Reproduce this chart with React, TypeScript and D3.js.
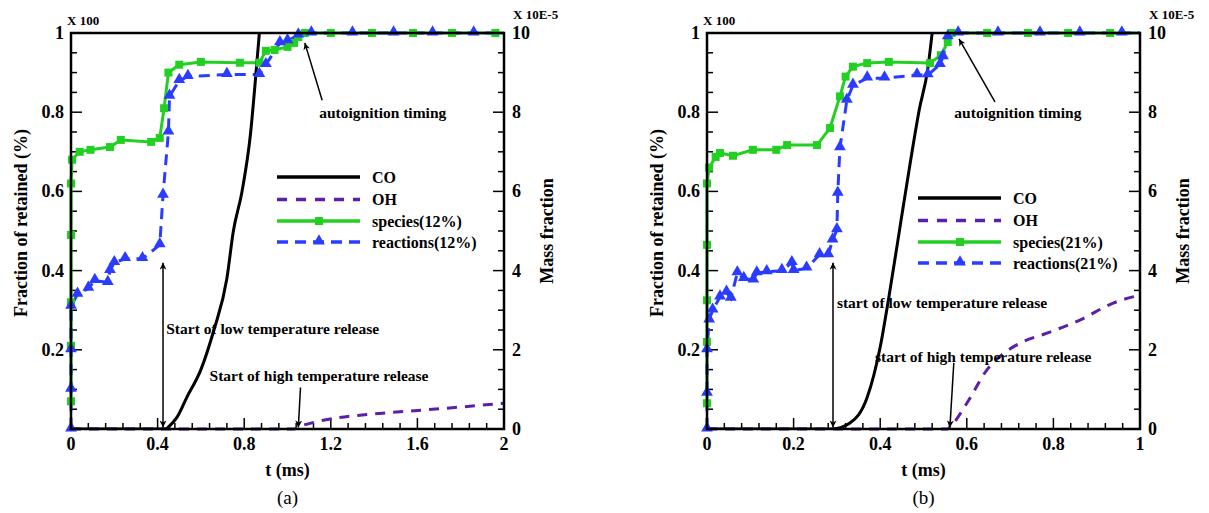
import React, { useRef, useEffect } from 'react';
import * as d3 from 'd3';

type Pt = [number, number];

// ---- panel (a): 12% ----
const speciesA: Pt[] = [
  [0, 0.07], [0, 0.21], [0, 0.32], [0, 0.49], [0, 0.62], [0.005, 0.68], [0.04, 0.7], [0.09, 0.705],
  [0.18, 0.712], [0.23, 0.73], [0.37, 0.725], [0.41, 0.735], [0.43, 0.81], [0.45, 0.9], [0.5, 0.92],
  [0.6, 0.927], [0.78, 0.925], [0.87, 0.925], [0.9, 0.955], [0.94, 0.957], [1.0, 0.965], [1.03, 0.975],
  [1.05, 0.99], [1.08, 1], [1.2, 1], [1.39, 1], [1.58, 1], [1.76, 1], [1.96, 1], [2, 1],
];
const reactionsA: Pt[] = [
  [0, 0], [0, 0.1], [0, 0.2], [0, 0.31], [0.03, 0.34], [0.08, 0.355], [0.11, 0.375], [0.17, 0.37],
  [0.18, 0.4], [0.2, 0.42], [0.25, 0.43], [0.33, 0.43], [0.41, 0.465], [0.425, 0.59], [0.45, 0.75],
  [0.455, 0.84], [0.5, 0.88], [0.54, 0.89], [0.72, 0.895], [0.87, 0.895], [0.9, 0.92], [0.965, 0.975],
  [1.0, 0.98], [1.05, 0.995], [1.11, 1], [1.3, 1], [1.49, 1], [1.67, 1], [1.86, 1], [2, 1],
];
const coA: Pt[] = [
  [0, 0], [0.44, 0], [0.45, 0.05], [0.49, 0.3], [0.535, 0.8], [0.6, 1.5], [0.66, 2.5], [0.72, 3.8],
  [0.75, 5.0], [0.79, 6.0], [0.83, 7.5], [0.85, 8.7], [0.87, 10], [0.9, 11.5],
];
const ohA: Pt[] = [
  [0, 0], [1.03, 0], [1.05, 0.05], [1.13, 0.18], [1.23, 0.28], [1.44, 0.4], [1.63, 0.48], [1.81, 0.56], [2, 0.65],
];

// ---- panel (b): 21% ----
const speciesB: Pt[] = [
  [0, 0.065], [0, 0.22], [0, 0.325], [0, 0.465], [0, 0.62], [0.005, 0.66], [0.02, 0.687], [0.03, 0.697],
  [0.06, 0.69], [0.106, 0.705], [0.16, 0.705], [0.185, 0.717], [0.254, 0.717], [0.284, 0.76], [0.307, 0.84],
  [0.32, 0.89], [0.337, 0.915], [0.37, 0.924], [0.42, 0.927], [0.515, 0.924], [0.54, 0.944], [0.556, 0.977],
  [0.565, 1], [0.647, 1], [0.741, 1], [0.834, 1], [0.931, 1], [1, 1],
];
const reactionsB: Pt[] = [
  [0, 0], [0, 0.09], [0, 0.2], [0.005, 0.275], [0.013, 0.3], [0.03, 0.333], [0.045, 0.345], [0.055, 0.33],
  [0.07, 0.394], [0.085, 0.38], [0.107, 0.376], [0.115, 0.394], [0.138, 0.397], [0.173, 0.4], [0.196, 0.42],
  [0.2, 0.4], [0.23, 0.406], [0.26, 0.44], [0.28, 0.44], [0.29, 0.477], [0.3, 0.503], [0.302, 0.595],
  [0.307, 0.71], [0.323, 0.83], [0.337, 0.868], [0.37, 0.886], [0.41, 0.886], [0.485, 0.894], [0.51, 0.894],
  [0.538, 0.92], [0.545, 0.94], [0.556, 0.99], [0.58, 1], [0.672, 1], [0.769, 1], [0.861, 1], [0.958, 1], [1, 1],
];
const coB: Pt[] = [
  [0, 0], [0.29, 0], [0.33, 0.15], [0.37, 0.8], [0.4, 2.07], [0.42, 3.33], [0.44, 4.7], [0.469, 6.7],
  [0.49, 8.05], [0.51, 9.1], [0.52, 10], [0.53, 11],
];
const ohB: Pt[] = [
  [0, 0], [0.555, 0], [0.561, 0.05], [0.6, 0.65], [0.647, 1.5], [0.684, 1.9], [0.723, 2.17], [0.785, 2.42],
  [0.861, 2.75], [0.938, 3.18], [1, 3.38],
];

const leftTicks = [0.2, 0.4, 0.6, 0.8, 1];
const rightTicks = [0, 2, 4, 6, 8, 10];
const tTicksA = [0, 0.4, 0.8, 1.2, 1.6, 2];
const tTicksB = [0, 0.2, 0.4, 0.6, 0.8, 1];

const FONT = "'Liberation Serif', 'DejaVu Serif', serif";
const GREEN = '#22d022';
const BLUE = '#2a3cff';
const PURPLE = '#5b1fa8';

interface Note { text: string; t: number; v: number; anchor: string }
interface PanelCfg {
  left: number;
  tMax: number;
  tTicks: number[];
  species: Pt[];
  reactions: Pt[];
  co: Pt[];
  oh: Pt[];
  pct: string;
  tag: string;
  legendX: number;
  legendY: number;
  notes: Note[];
  arrows: { from: Pt; to: Pt; both?: boolean }[];
}

const panels: PanelCfg[] = [
  {
    left: 71, tMax: 2, tTicks: tTicksA, species: speciesA, reactions: reactionsA, co: coA, oh: ohA,
    pct: '12%', tag: '(a)', legendX: 206, legendY: 177,
    notes: [
      { text: 'autoignition timing', t: 1.44, v: 0.785, anchor: 'middle' },
      { text: 'Start of low temperature release', t: 0.44, v: 0.24, anchor: 'start' },
      { text: 'Start of high temperature release', t: 0.64, v: 0.12, anchor: 'start' },
    ],
    arrows: [
      { from: [1.16, 0.83], to: [1.08, 0.975] },
      { from: [0.425, 0.42], to: [0.425, 0.004], both: true },
      { from: [1.06, 0.105], to: [1.05, 0.004] },
    ],
  },
  {
    left: 707, tMax: 1, tTicks: tTicksB, species: speciesB, reactions: reactionsB, co: coB, oh: ohB,
    pct: '21%', tag: '(b)', legendX: 211, legendY: 198,
    notes: [
      { text: 'autoignition timing', t: 0.718, v: 0.785, anchor: 'middle' },
      { text: 'start of low temperature release', t: 0.3, v: 0.305, anchor: 'start' },
      { text: 'start of high temperature release', t: 0.388, v: 0.17, anchor: 'start' },
    ],
    arrows: [
      { from: [0.665, 0.826], to: [0.582, 0.985] },
      { from: [0.291, 0.42], to: [0.291, 0.004], both: true },
      { from: [0.57, 0.167], to: [0.561, 0.004] },
    ],
  },
];

const W = 433;
const TOP = 33;
const BOTTOM = 429;

function drawPanel(svg: d3.Selection<SVGSVGElement, unknown, null, undefined>, cfg: PanelCfg, idx: number) {
  const x = d3.scaleLinear().domain([0, cfg.tMax]).range([cfg.left, cfg.left + W]);
  const y = d3.scaleLinear().domain([0, 1]).range([BOTTOM, TOP]);
  const y2 = d3.scaleLinear().domain([0, 10]).range([BOTTOM, TOP]);
  const g = svg.append('g');

  const clipId = `clip-${idx}`;
  svg.append('clipPath').attr('id', clipId)
    .append('rect').attr('x', cfg.left).attr('y', TOP).attr('width', W).attr('height', BOTTOM - TOP);

  // ticks (inside)
  const tStep = cfg.tTicks[1] - cfg.tTicks[0];
  const xMinor = d3.range(0, cfg.tMax + 1e-9, tStep / 5);
  g.selectAll('.xm').data(xMinor).join('line')
    .attr('x1', d => x(d)).attr('x2', d => x(d))
    .attr('y1', BOTTOM).attr('y2', (d, i) => BOTTOM - (i % 5 === 0 ? 11 : 6))
    .attr('stroke', '#000').attr('stroke-width', 1.5);
  const yMinor = d3.range(0, 1 + 1e-9, 0.05);
  g.selectAll('.ym').data(yMinor).join('line')
    .attr('x1', cfg.left).attr('x2', (d, i) => cfg.left + (i % 4 === 0 ? 11 : 6))
    .attr('y1', d => y(d)).attr('y2', d => y(d))
    .attr('stroke', '#000').attr('stroke-width', 1.5);
  const y2Minor = d3.range(0, 10 + 1e-9, 0.5);
  g.selectAll('.y2m').data(y2Minor).join('line')
    .attr('x1', cfg.left + W).attr('x2', (d, i) => cfg.left + W - (i % 4 === 0 ? 11 : 6))
    .attr('y1', d => y2(d)).attr('y2', d => y2(d))
    .attr('stroke', '#000').attr('stroke-width', 1.5);

  // tick labels
  const lab = (sel: any) => sel.attr('font-family', FONT).attr('font-weight', 'bold').attr('font-size', 18).attr('fill', '#000');
  g.selectAll('.xl').data(cfg.tTicks).join('text')
    .attr('x', d => x(d)).attr('y', BOTTOM + 21).attr('text-anchor', 'middle')
    .text(d => d3.format('~g')(d)).call(lab);
  g.selectAll('.yl').data(leftTicks).join('text')
    .attr('x', cfg.left - 7).attr('y', d => y(d) + 6).attr('text-anchor', 'end')
    .text(d => d3.format('~g')(d)).call(lab);
  g.selectAll('.y2l').data(rightTicks).join('text')
    .attr('x', cfg.left + W + 8).attr('y', d => y2(d) + 6).attr('text-anchor', 'start')
    .text(d => String(d)).call(lab);

  g.append('text').attr('x', cfg.left - 4).attr('y', TOP - 8).text('X 100')
    .attr('font-family', FONT).attr('font-weight', 'bold').attr('font-size', 13);
  g.append('text').attr('x', cfg.left + W + 9).attr('y', TOP - 14).text('X 10E-5')
    .attr('font-family', FONT).attr('font-weight', 'bold').attr('font-size', 13);

  // axis titles
  g.append('text').attr('transform', `translate(${cfg.left - 44},${(TOP + BOTTOM) / 2 - 8}) rotate(-90)`)
    .attr('text-anchor', 'middle').text('Fraction of retained (%)').call(lab);
  g.append('text').attr('transform', `translate(${cfg.left + W + 49},${(TOP + BOTTOM) / 2}) rotate(-90)`)
    .attr('text-anchor', 'middle').text('Mass fraction').call(lab);
  g.append('text').attr('x', cfg.left + W / 2).attr('y', BOTTOM + 47).attr('text-anchor', 'middle')
    .text('t (ms)').call(lab);
  g.append('text').attr('x', cfg.left + W / 2).attr('y', BOTTOM + 75).attr('text-anchor', 'middle')
    .text(cfg.tag).attr('font-family', FONT).attr('font-size', 19);

  const line = d3.line<Pt>().x(d => x(d[0])).y(d => y(d[1]));
  const line2 = d3.line<Pt>().x(d => x(d[0])).y(d => y2(d[1])).curve(d3.curveMonotoneX);

  // series
  g.append('path').datum(cfg.oh).attr('d', line2).attr('fill', 'none')
    .attr('stroke', PURPLE).attr('stroke-width', 3).attr('stroke-dasharray', '10,8');
  g.append('path').datum(cfg.species).attr('d', line).attr('fill', 'none')
    .attr('stroke', GREEN).attr('stroke-width', 3);
  g.append('path').datum(cfg.reactions).attr('d', line).attr('fill', 'none')
    .attr('stroke', BLUE).attr('stroke-width', 3).attr('stroke-dasharray', '11,7');
  g.append('path').datum(cfg.co).attr('d', line2).attr('fill', 'none')
    .attr('clip-path', `url(#${clipId})`)
    .attr('stroke', '#000').attr('stroke-width', 3);

  const sq = d3.symbol().type(d3.symbolSquare).size(64);
  const tri = d3.symbol().type(d3.symbolTriangle).size(60);
  g.selectAll('.sq').data(cfg.species.slice(0, -1)).join('path')
    .attr('d', sq).attr('transform', d => `translate(${x(d[0])},${y(d[1])})`).attr('fill', GREEN);
  g.selectAll('.tri').data(cfg.reactions.slice(0, -1)).join('path')
    .attr('d', tri).attr('transform', d => `translate(${x(d[0])},${y(d[1]) - 1})`).attr('fill', BLUE);

  // frame
  g.append('rect').attr('x', cfg.left).attr('y', TOP).attr('width', W).attr('height', BOTTOM - TOP)
    .attr('fill', 'none').attr('stroke', '#000').attr('stroke-width', 2.5);

  // annotations
  cfg.notes.forEach(n => {
    g.append('text').attr('x', x(n.t)).attr('y', y(n.v)).attr('text-anchor', n.anchor)
      .text(n.text).attr('font-family', FONT).attr('font-weight', 'bold').attr('font-size', 15.5);
  });
  cfg.arrows.forEach(a => {
    g.append('line').attr('x1', x(a.from[0])).attr('y1', y(a.from[1]))
      .attr('x2', x(a.to[0])).attr('y2', y(a.to[1]))
      .attr('stroke', '#000').attr('stroke-width', 1.5)
      .attr('marker-end', 'url(#arrow)')
      .attr('marker-start', a.both ? 'url(#arrowStart)' : null);
  });

  // legend
  const lx = cfg.left + cfg.legendX;
  const rows = [
    { name: 'CO', color: '#000', dash: null, mark: null },
    { name: 'OH', color: PURPLE, dash: '10,9', mark: null },
    { name: `species(${cfg.pct})`, color: GREEN, dash: null, mark: sq },
    { name: `reactions(${cfg.pct})`, color: BLUE, dash: '11,7', mark: tri },
  ];
  const step = [0, 22.5, 44, 65];
  rows.forEach((r, i) => {
    const ly = cfg.legendY + step[i];
    g.append('line').attr('x1', lx).attr('x2', lx + 83).attr('y1', ly).attr('y2', ly)
      .attr('stroke', r.color).attr('stroke-width', 3.5).attr('stroke-dasharray', r.dash);
    if (r.mark) {
      g.append('path').attr('d', r.mark).attr('transform', `translate(${lx + 42},${ly - (r.mark === tri ? 1 : 0)})`).attr('fill', r.color);
    }
    g.append('text').attr('x', lx + 95).attr('y', ly + 5.5).text(r.name)
      .attr('font-family', FONT).attr('font-weight', 'bold').attr('font-size', 16);
  });
}

export default function App() {
  const ref = useRef<SVGSVGElement | null>(null);

  useEffect(() => {
    if (!ref.current) return;
    const svg = d3.select(ref.current);
    svg.selectAll('*').remove();

    const defs = svg.append('defs');
    defs.append('marker').attr('id', 'arrow').attr('viewBox', '0 0 10 10')
      .attr('refX', 10).attr('refY', 5).attr('markerWidth', 7).attr('markerHeight', 7)
      .attr('markerUnits', 'userSpaceOnUse').attr('orient', 'auto')
      .append('path').attr('d', 'M0,0 L10,5 L0,10 L3,5 Z').attr('fill', '#000');
    defs.append('marker').attr('id', 'arrowStart').attr('viewBox', '0 0 10 10')
      .attr('refX', 0).attr('refY', 5).attr('markerWidth', 7).attr('markerHeight', 7)
      .attr('markerUnits', 'userSpaceOnUse').attr('orient', 'auto')
      .append('path').attr('d', 'M10,0 L0,5 L10,10 L7,5 Z').attr('fill', '#000');

    svg.append('rect').attr('width', 1209).attr('height', 513).attr('fill', '#fff');
    panels.forEach((p, i) => drawPanel(svg, p, i));
  }, []);

  return (
    <svg ref={ref} width={1209} height={513}
      style={{ position: 'absolute', left: 0, top: 0, display: 'block' }} />
  );
}
